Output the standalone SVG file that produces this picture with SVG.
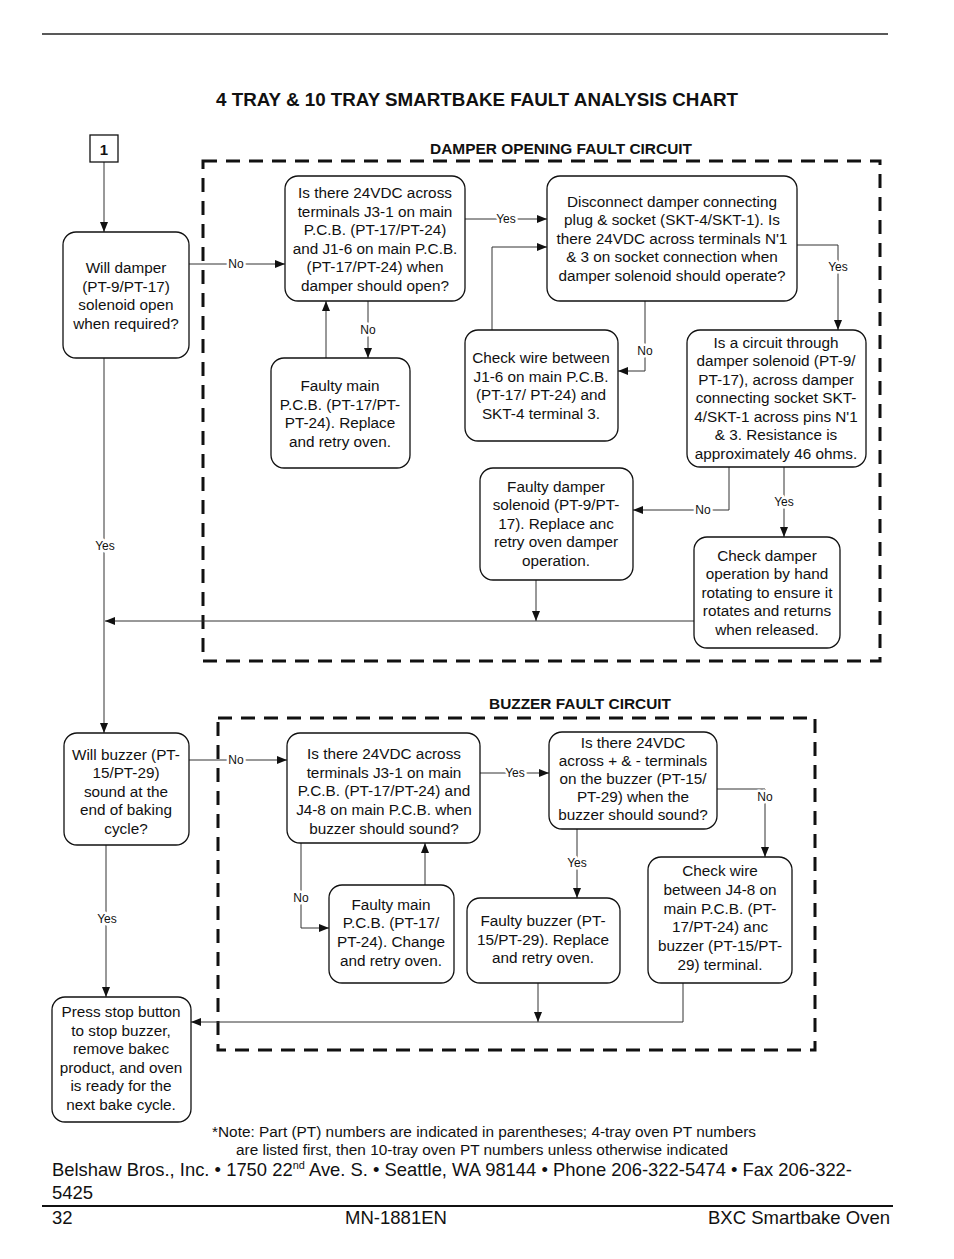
<svg xmlns="http://www.w3.org/2000/svg" width="954" height="1259" viewBox="0 0 954 1259">
<defs>
<style>
text{font-family:"Liberation Sans",Arial,sans-serif;fill:#111}
.t{font-size:15.3px;text-anchor:middle}
.n rect{fill:#fff;stroke:#111;stroke-width:1.3}
.c path,.c line{fill:none;stroke:#333;stroke-width:1}
.arr{marker-end:url(#ah)}
.lbl{font-size:12px;text-anchor:middle;stroke:#fff;stroke-width:5;paint-order:stroke;stroke-linejoin:round}
.dash{fill:none;stroke:#111;stroke-width:3;stroke-dasharray:14 9}
.h{font-weight:bold;text-anchor:middle}
.f{font-size:14px}
.ft{font-size:18.5px}
</style>
<marker id="ah" viewBox="0 0 10 8" refX="10" refY="4" markerWidth="10" markerHeight="8" orient="auto" markerUnits="userSpaceOnUse"><path d="M0,0 L10,4 L0,8 z" fill="#111"/></marker>
</defs>
<rect width="954" height="1259" fill="#fff"/>
<line x1="42" y1="34" x2="888" y2="34" stroke="#222" stroke-width="1.5"/>
<text class="h" x="477" y="106" font-size="18" textLength="522" lengthAdjust="spacingAndGlyphs">4 TRAY &amp; 10 TRAY SMARTBAKE FAULT ANALYSIS CHART</text>
<text class="h" x="561" y="154" font-size="15" textLength="262" lengthAdjust="spacingAndGlyphs">DAMPER OPENING FAULT CIRCUIT</text>
<text class="h" x="580" y="709" font-size="15" textLength="182" lengthAdjust="spacingAndGlyphs">BUZZER FAULT CIRCUIT</text>
<rect class="dash" x="203" y="161" width="677" height="500"/>
<rect class="dash" x="218" y="718" width="597" height="332"/>

<g id="connectors" class="c">
<line class="arr" x1="104" y1="162" x2="104" y2="232"/>
<line class="arr" x1="189" y1="264" x2="285" y2="264"/>
<line class="arr" x1="465" y1="219" x2="547" y2="219"/>
<line class="arr" x1="368" y1="301" x2="368" y2="358"/>
<line class="arr" x1="326" y1="358" x2="326" y2="301"/>
<path class="arr" d="M645,301 V371 H618"/>
<path class="arr" d="M492,330 V247 H547"/>
<path class="arr" d="M797,245 H838 V330"/>
<path class="arr" d="M729,467 V510 H633"/>
<line class="arr" x1="784" y1="467" x2="784" y2="537"/>
<line class="arr" x1="536" y1="580" x2="536" y2="621"/>
<line class="arr" x1="694" y1="621" x2="105" y2="621"/>
<line class="arr" x1="104" y1="358" x2="104" y2="733"/>
<line class="arr" x1="189" y1="760" x2="287" y2="760"/>
<line class="arr" x1="480" y1="773" x2="549" y2="773"/>
<path class="arr" d="M717,789 H765 V857"/>
<line class="arr" x1="577" y1="829" x2="577" y2="898"/>
<path class="arr" d="M301,843 V928 H329"/>
<line class="arr" x1="425" y1="885" x2="425" y2="843"/>
<line class="arr" x1="538" y1="983" x2="538" y2="1022"/>
<path class="arr" d="M683,983 V1022 H191"/>
<line class="arr" x1="106" y1="845" x2="106" y2="997"/>
<text class="lbl" x="236" y="268">No</text>
<text class="lbl" x="506" y="223">Yes</text>
<text class="lbl" x="368" y="334">No</text>
<text class="lbl" x="645" y="355">No</text>
<text class="lbl" x="838" y="271">Yes</text>
<text class="lbl" x="703" y="514">No</text>
<text class="lbl" x="784" y="506">Yes</text>
<text class="lbl" x="105" y="550">Yes</text>
<text class="lbl" x="236" y="764">No</text>
<text class="lbl" x="515" y="777">Yes</text>
<text class="lbl" x="765" y="801">No</text>
<text class="lbl" x="577" y="867">Yes</text>
<text class="lbl" x="301" y="902">No</text>
<text class="lbl" x="107" y="923">Yes</text>
</g>

<g id="n1" class="n"><rect x="90" y="135" width="28" height="27" rx="0"/><text x="104" y="155" font-size="15" font-weight="bold" text-anchor="middle">1</text></g>

<g id="willDamper" class="n"><rect x="63" y="232" width="126" height="126" rx="13"/>
<text class="t" x="126" y="273">Will damper</text><text class="t" x="126" y="292">(PT-9/PT-17)</text><text class="t" x="126" y="310">solenoid open</text><text class="t" x="126" y="329">when required?</text></g>

<g id="q1" class="n"><rect x="285" y="176" width="180" height="125" rx="13"/>
<text class="t" x="375" y="198">Is there 24VDC across</text><text class="t" x="375" y="217">terminals J3-1 on main</text><text class="t" x="375" y="235">P.C.B. (PT-17/PT-24)</text><text class="t" x="375" y="254">and J1-6 on main P.C.B.</text><text class="t" x="375" y="272">(PT-17/PT-24) when</text><text class="t" x="375" y="291">damper should open?</text></g>

<g id="q2" class="n"><rect x="547" y="176" width="250" height="125" rx="13"/>
<text class="t" x="672" y="207">Disconnect damper connecting</text><text class="t" x="672" y="225">plug &amp; socket (SKT-4/SKT-1). Is</text><text class="t" x="672" y="244">there 24VDC across terminals N'1</text><text class="t" x="672" y="262">&amp; 3 on socket connection when</text><text class="t" x="672" y="281">damper solenoid should operate?</text></g>

<g id="faultyMain1" class="n"><rect x="271" y="358" width="139" height="110" rx="13"/>
<text class="t" x="340" y="391">Faulty main</text><text class="t" x="340" y="410">P.C.B. (PT-17/PT-</text><text class="t" x="340" y="428">PT-24). Replace</text><text class="t" x="340" y="447">and retry oven.</text></g>

<g id="checkWire1" class="n"><rect x="465" y="330" width="153" height="111" rx="13"/>
<text class="t" x="541" y="363">Check wire between</text><text class="t" x="541" y="382">J1-6 on main P.C.B.</text><text class="t" x="541" y="400">(PT-17/ PT-24) and</text><text class="t" x="541" y="419">SKT-4 terminal 3.</text></g>

<g id="circuit" class="n"><rect x="687" y="330" width="179" height="137" rx="13"/>
<text class="t" x="776" y="348">Is a circuit through</text><text class="t" x="776" y="366">damper solenoid (PT-9/</text><text class="t" x="776" y="385">PT-17), across damper</text><text class="t" x="776" y="403">connecting socket SKT-</text><text class="t" x="776" y="422">4/SKT-1 across pins N'1</text><text class="t" x="776" y="440">&amp; 3. Resistance is</text><text class="t" x="776" y="459">approximately 46 ohms.</text></g>

<g id="faultyDamper" class="n"><rect x="480" y="468" width="153" height="112" rx="13"/>
<text class="t" x="556" y="492">Faulty damper</text><text class="t" x="556" y="510">solenoid (PT-9/PT-</text><text class="t" x="556" y="529">17). Replace anc</text><text class="t" x="556" y="547">retry oven damper</text><text class="t" x="556" y="566">operation.</text></g>

<g id="checkDamper" class="n"><rect x="694" y="537" width="146" height="111" rx="13"/>
<text class="t" x="767" y="561">Check damper</text><text class="t" x="767" y="579">operation by hand</text><text class="t" x="767" y="598">rotating to ensure it</text><text class="t" x="767" y="616">rotates and returns</text><text class="t" x="767" y="635">when released.</text></g>

<g id="willBuzzer" class="n"><rect x="64" y="733" width="125" height="112" rx="13"/>
<text class="t" x="126" y="760">Will buzzer (PT-</text><text class="t" x="126" y="778">15/PT-29)</text><text class="t" x="126" y="797">sound at the</text><text class="t" x="126" y="815">end of baking</text><text class="t" x="126" y="834">cycle?</text></g>

<g id="q3" class="n"><rect x="287" y="733" width="193" height="110" rx="13"/>
<text class="t" x="384" y="759">Is there 24VDC across</text><text class="t" x="384" y="778">terminals J3-1 on main</text><text class="t" x="384" y="796">P.C.B. (PT-17/PT-24) and</text><text class="t" x="384" y="815">J4-8 on main P.C.B. when</text><text class="t" x="384" y="834">buzzer should sound?</text></g>

<g id="q4" class="n"><rect x="549" y="732" width="168" height="97" rx="13"/>
<text class="t" x="633" y="748">Is there 24VDC</text><text class="t" x="633" y="766">across + &amp; - terminals</text><text class="t" x="633" y="784">on the buzzer (PT-15/</text><text class="t" x="633" y="802">PT-29) when the</text><text class="t" x="633" y="820">buzzer should sound?</text></g>

<g id="faultyMain2" class="n"><rect x="329" y="885" width="125" height="98" rx="13"/>
<text class="t" x="391" y="910">Faulty main</text><text class="t" x="391" y="928">P.C.B. (PT-17/</text><text class="t" x="391" y="947">PT-24). Change</text><text class="t" x="391" y="966">and retry oven.</text></g>

<g id="faultyBuzzer" class="n"><rect x="467" y="898" width="153" height="85" rx="13"/>
<text class="t" x="543" y="926">Faulty buzzer (PT-</text><text class="t" x="543" y="945">15/PT-29). Replace</text><text class="t" x="543" y="963">and retry oven.</text></g>

<g id="checkWire2" class="n"><rect x="648" y="857" width="144" height="126" rx="13"/>
<text class="t" x="720" y="876">Check wire</text><text class="t" x="720" y="895">between J4-8 on</text><text class="t" x="720" y="914">main P.C.B. (PT-</text><text class="t" x="720" y="932">17/PT-24) anc</text><text class="t" x="720" y="951">buzzer (PT-15/PT-</text><text class="t" x="720" y="970">29) terminal.</text></g>

<g id="pressStop" class="n"><rect x="52" y="997" width="139" height="125" rx="13"/>
<text class="t" x="121" y="1017">Press stop button</text><text class="t" x="121" y="1036">to stop buzzer,</text><text class="t" x="121" y="1054">remove bakec</text><text class="t" x="121" y="1073">product, and oven</text><text class="t" x="121" y="1091">is ready for the</text><text class="t" x="121" y="1110">next bake cycle.</text></g>

<text class="f" x="484" y="1137" text-anchor="middle" textLength="544" lengthAdjust="spacingAndGlyphs">*Note: Part (PT) numbers are indicated in parentheses; 4-tray oven PT numbers</text>
<text class="f" x="482" y="1155" text-anchor="middle" textLength="492" lengthAdjust="spacingAndGlyphs">are listed first, then 10-tray oven PT numbers unless otherwise indicated</text>
<text class="ft" x="52" y="1176" textLength="800" lengthAdjust="spacingAndGlyphs">Belshaw Bros., Inc. • 1750 22<tspan font-size="11" dy="-7">nd</tspan><tspan dy="7"> Ave. S. • Seattle, WA 98144 • Phone 206-322-5474 • Fax 206-322-</tspan></text>
<text class="ft" x="52" y="1199">5425</text>
<line x1="42" y1="1206" x2="893" y2="1206" stroke="#111" stroke-width="2"/>
<text class="ft" x="52" y="1224">32</text>
<text class="ft" x="396" y="1224" text-anchor="middle">MN-1881EN</text>
<text class="ft" x="890" y="1224" text-anchor="end">BXC Smartbake Oven</text>
</svg>
